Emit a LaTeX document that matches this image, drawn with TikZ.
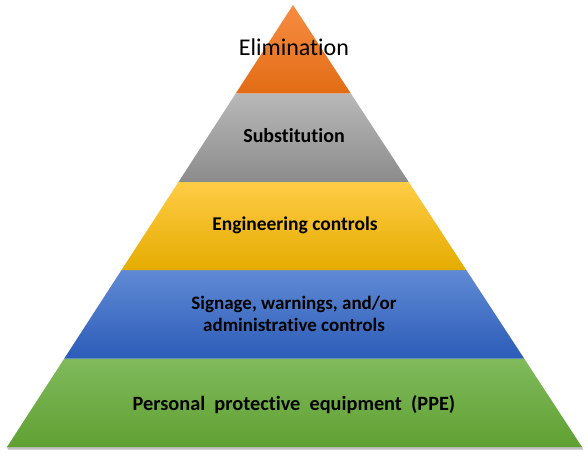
\documentclass[tikz,border=0pt]{standalone}
\usepackage{fontspec}
\setmainfont{Carlito}[Ligatures=NoCommon]
\usetikzlibrary{calc}
\definecolor{orT}{RGB}{246,140,66}
\definecolor{orB}{RGB}{226,108,20}
\definecolor{grT}{RGB}{184,184,184}
\definecolor{grB}{RGB}{140,140,140}
\definecolor{yeT}{RGB}{255,204,70}
\definecolor{yeB}{RGB}{228,172,0}
\definecolor{blT}{RGB}{96,138,212}
\definecolor{blB}{RGB}{44,92,184}
\definecolor{gnT}{RGB}{128,186,92}
\definecolor{gnB}{RGB}{96,160,50}
\begin{document}
\begin{tikzpicture}[x=1pt,y=1pt,
  lbl/.style={font=\bfseries\fontsize{19.5}{22}\selectfont, align=center, text=black}]
\useasboundingbox (0,0) rectangle (588,456);
\coordinate (A) at (293,451);
\coordinate (L) at (7,9);
\coordinate (R) at (582,9);
% shadow
\fill[black!25] (8,6.5) -- (583,6.5) -- (582,9) -- (7,9) -- cycle;
% layers
\foreach \a/\b/\ct/\cb in {0/0.2/gnT/gnB, 0.2/0.4/blT/blB, 0.4/0.6/yeT/yeB, 0.6/0.8/grT/grB}{
  \shade[top color=\ct, bottom color=\cb]
    ($(L)!\a!(A)$) -- ($(R)!\a!(A)$) -- ($(R)!\b!(A)$) -- ($(L)!\b!(A)$) -- cycle;
}
\shade[top color=orT, bottom color=orB] ($(L)!0.8!(A)$) -- ($(R)!0.8!(A)$) -- (A) -- cycle;
% labels
\node[font=\fontsize{24}{28}\selectfont, text=black] (elim) at (294,409) {Elimination};
\node[lbl, font=\bfseries\fontsize{20}{22}\selectfont] (sub) at (294,320) {Substitution};
\node[lbl] (eng) at (295,231) {Engineering controls};
\node[lbl, font=\bfseries\fontsize{19}{22}\selectfont] (sig) at (294,142) {Signage, warnings, and/or\\administrative controls};
\node[lbl, font=\bfseries\fontsize{20.3}{22}\selectfont] (ppe) at (294,51) {Personal\ \ protective\ \ equipment\ \ (PPE)};
\end{tikzpicture}
\end{document}
